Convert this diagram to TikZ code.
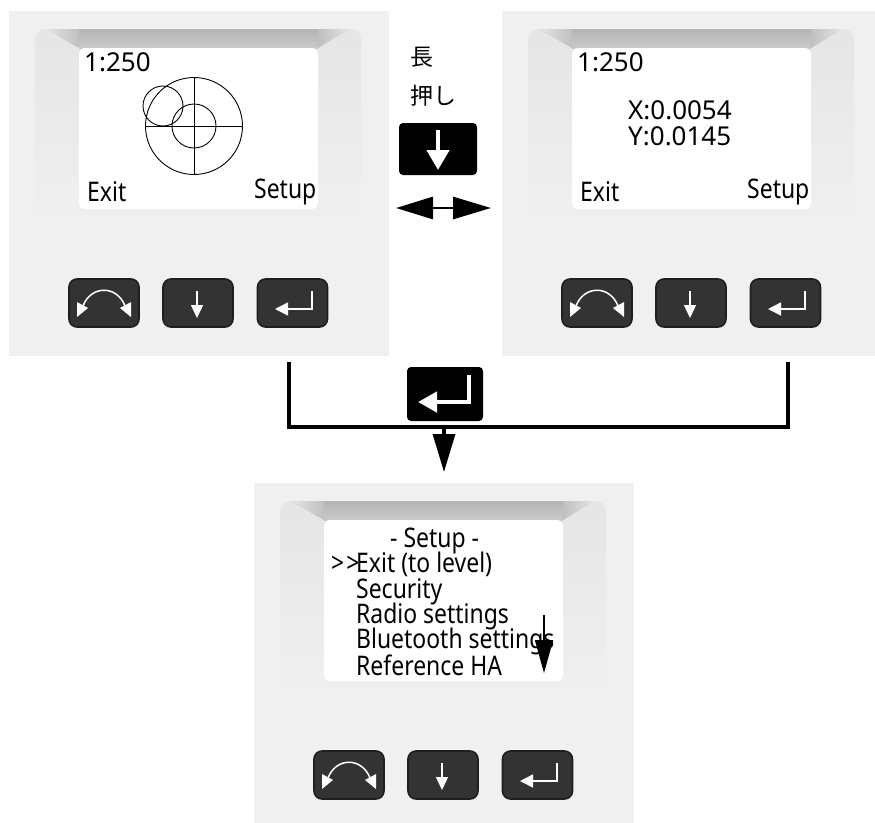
\documentclass[tikz,border=0pt]{standalone}
\usepackage{xcolor}
\usepackage{fontspec}
\setmainfont[FakeStretch=0.85]{Noto Sans}
\newfontfamily\numfont{Noto Sans}
\newfontfamily\cjk{Noto Sans CJK JP}
\usetikzlibrary{arrows.meta, positioning}

\definecolor{panelgray}{HTML}{F0F0F0}
\definecolor{keygray}{HTML}{333333}
\definecolor{keyedge}{HTML}{1E1E1E}

\tikzset{
    keybtn/.style={rectangle, draw=keyedge, line width=1.6pt, fill=keygray, rounded corners=8pt, minimum width=70pt, minimum height=48pt, inner sep=0pt},
    bigkey/.style={rectangle, fill=black, rounded corners=4pt, inner sep=0pt},
    lcd/.style={font=\fontsize{27}{29}\selectfont, anchor=base west, inner sep=0pt},
    lcdnum/.style={font=\numfont\fontsize{26}{28}\selectfont, anchor=base west, inner sep=0pt},
    pics/devpanel/.style={code={
        \fill[panelgray] (9,11) rectangle (389,356);
        \shade[top color=black!10, bottom color=black!6] (35,222) -- (35,39) arc[start angle=180, end angle=90, radius=10pt] -- (351,29) arc[start angle=90, end angle=0, radius=10pt] -- (361,222) -- cycle;
        \shade[left color=black!10, right color=black!25] (45,29) -- (79,29) -- (79,48) -- cycle;
        \shade[right color=black!10, left color=black!25] (350,29) -- (318,29) -- (318,48) -- cycle;
        \shade[top color=black!29, bottom color=black!21] (79,29) rectangle (318,48);
        \node[rectangle, fill=white, rounded corners=6pt, minimum width=239pt, minimum height=161pt, inner sep=0pt] (-screen) at (198.5,128.5) {};
        \node[keybtn] (-scroll) at (104,303) {};
        \node[keybtn] (-down) at (198,303) {};
        \node[keybtn] (-enter) at (292.5,303) {};
        % white symbols on the keys
        \draw[white, line width=1.5pt] (83,306) .. controls (91,285) and (117,285) .. (125,306);
        \fill[white] (77,317) -- (77,302) -- (88,308) -- cycle (131,317) -- (131,302) -- (120,308) -- cycle;
        \draw[white, line width=1.5pt, -{Triangle[width=12pt,length=13pt]}] (197,291) -- (197,318);
        \draw[white, line width=1.5pt, -{Triangle[width=13pt,length=13pt]}] (312,291) -- (312,309) -- (275,309);
    }}
}

\begin{document}
\begin{tikzpicture}[x=1pt, y=-1pt]
    \clip (0,0) rectangle (875,822);

    \pic (left) at (0,0) {devpanel};
    \pic (right) at (493,0) {devpanel};
    \pic (menu) at (245,472) {devpanel};

    % bubble screen
    \node[lcdnum] (scale1) at (84,71) {1:250};
    \node[lcd] (exit1) at (87,201) {Exit};
    \node[lcd] (setup1) at (254,198) {Setup};
    \coordinate (bubc) at (194,126);
    \draw[line width=0.9pt] (bubc) circle[radius=48.5pt] (bubc) circle[radius=22pt] (163,106) circle[radius=20pt];
    \draw[line width=0.9pt] (146,126) -- (242,126) (194,77) -- (194,175);

    % numeric screen
    \node[lcdnum] (scale2) at (577,71) {1:250};
    \node[lcdnum] (xval) at (628,119) {X:0.0054};
    \node[lcdnum] (yval) at (628,145) {Y:0.0145};
    \node[lcd] (exit2) at (580,201) {Exit};
    \node[lcd] (setup2) at (747,198) {Setup};

    % menu screen
    \node[lcd] (title) at (390,547) {- Setup -};
    \node[lcd] (cursor) at (331,572) {{>}\kern2pt{>}};
    \node[lcd] (item1) at (356,572) {Exit (to level)};
    \node[lcd] (item2) at (356,598) {Security};
    \node[lcd] (item3) at (356,623) {Radio settings};
    \node[lcd] (item4) at (356,648) {Bluetooth settings};
    \node[lcd] (item5) at (356,675) {Reference HA};
    \coordinate (more1) at (544,615);
    \coordinate (more2) at (544,673);
    \draw[line width=1.5pt, -{Triangle[width=18pt,length=33pt]}] (more1) -- (more2);

    % long press
    \node[font=\cjk\fontsize{23}{25}\selectfont, anchor=base west, inner sep=0pt] (hold1) at (410,65) {長};
    \node[font=\cjk\fontsize{23}{25}\selectfont, anchor=base west, inner sep=0pt] (hold2) at (410,104) {押し};
    \node[bigkey, minimum width=78pt, minimum height=52pt] (holdkey) at (438,149) {};
    \draw[white, line width=4.5pt, -{Triangle[width=22pt,length=20pt]}] (438,130) -- (438,170);
    \coordinate (swapl) at (396,208);
    \coordinate (swapr) at (491,208);
    \draw[line width=2.8pt, {Triangle[width=22pt,length=37pt]}-{Triangle[width=22pt,length=38pt]}] (swapl) -- (swapr);

    % enter
    \node[bigkey, minimum width=76pt, minimum height=54pt] (enterkey) at (445,394) {};
    \draw[white, line width=4.5pt, -{Triangle[width=20pt,length=19pt]}] (469,375) -- (469,402) -- (418,402);
    \coordinate (linel) at (289,362);
    \coordinate (liner) at (788,362);
    \coordinate (joint) at (444,427);
    \coordinate (tip) at (444,472);
    \draw[line width=3.3pt] (linel) |- (joint) -| (liner);
    \draw[line width=3.3pt, -{Triangle[width=22pt,length=38pt]}] (joint) -- (tip);
\end{tikzpicture}
\end{document}
